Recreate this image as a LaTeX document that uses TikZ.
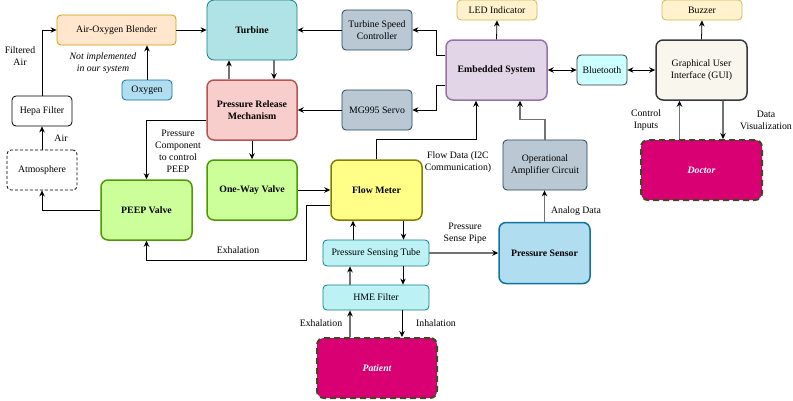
\documentclass[tikz,border=0pt]{standalone}
\usepackage{fontspec}
\setmainfont{Liberation Serif}
\usepackage{xcolor}
\usepackage{tikz}
\usetikzlibrary{shapes,arrows,positioning,calc,arrows.meta}

\definecolor{orangeF}{HTML}{FFE6CC}\definecolor{orangeD}{HTML}{D79B00}
\definecolor{tealF}{HTML}{B0E3E6}\definecolor{tealD}{HTML}{0E8088}
\definecolor{slateF}{HTML}{BAC8D3}\definecolor{slateD}{HTML}{23445D}
\definecolor{yellowF}{HTML}{FFF2CC}\definecolor{yellowD}{HTML}{D6B656}
\definecolor{purpleF}{HTML}{E1D5E7}\definecolor{purpleD}{HTML}{9673A6}
\definecolor{cyanF}{HTML}{CCFFFF}\definecolor{darkD}{HTML}{36393D}
\definecolor{creamF}{HTML}{F9F7ED}
\definecolor{pinkF}{HTML}{D80073}\definecolor{oliveD}{HTML}{3D4A1F}
\definecolor{redF}{HTML}{F8CECC}\definecolor{redD}{HTML}{B85450}
\definecolor{blueF}{HTML}{B1DDF0}\definecolor{blueD}{HTML}{10739E}
\definecolor{greenF}{HTML}{CCFF99}\definecolor{greenD}{HTML}{4D9900}
\definecolor{lemonF}{HTML}{FFFF88}\definecolor{lemonD}{HTML}{808000}
\definecolor{iceF}{HTML}{BDF2F5}

\begin{document}
\begin{tikzpicture}[x=1pt,y=-1pt,font=\fontsize{9.8}{12}\selectfont,
  blk/.style={draw, rounded corners=4pt, align=center, inner sep=1pt, line width=0.8pt},
  big/.style={blk, rounded corners=7pt, line width=1.5pt, font=\fontsize{9.8}{12}\selectfont\bfseries},
  person/.style={blk, rounded corners=7pt, fill=pinkF, draw=oliveD, line width=2pt,
    dash pattern=on 6pt off 4pt, text=white, font=\fontsize{9.8}{12}\selectfont\bfseries\itshape},
  lbl/.style={align=center, inner sep=0pt},
  arr/.style={-{Stealth[length=6pt,width=5.5pt]}, line width=0.8pt},
  garr/.style={-{Stealth[length=6pt,width=5.5pt,color=black]}, draw=gray!90!black, line width=1.2pt},
  dbl/.style={{Stealth[length=6pt,width=5.5pt]}-{Stealth[length=6pt,width=5.5pt]}, line width=0.8pt}]
\useasboundingbox (0,0) rectangle (793,400);

% blocks
\node[blk, fill=orangeF, draw=orangeD, minimum width=119pt, minimum height=30pt] (blender) at (116.5,30) {Air-Oxygen Blender};
\node[big, fill=tealF, draw=tealD, line width=0.8pt, minimum width=90pt, minimum height=60pt] (turbine) at (252,30) {Turbine};
\node[blk, fill=slateF, draw=slateD, minimum width=70pt, minimum height=40pt] (speed) at (377,30) {Turbine Speed\\Controller};
\node[blk, fill=yellowF, draw=yellowD, minimum width=80pt, minimum height=20pt] (led) at (497,10) {LED Indicator};
\node[big, fill=purpleF, draw=purpleD, minimum width=101pt, minimum height=60pt] (embedded) at (496.5,70) {Embedded System};
\node[blk, fill=cyanF, draw=darkD, minimum width=50pt, minimum height=30pt] (bluetooth) at (602,70) {Bluetooth};
\node[blk, fill=yellowF, draw=yellowD, minimum width=80pt, minimum height=20pt] (buzzer) at (702,10) {Buzzer};
\node[big, fill=creamF, draw=darkD, font=\fontsize{9.8}{12}\selectfont, minimum width=91pt, minimum height=60pt] (gui) at (701.5,70) {Graphical User\\Interface (GUI)};
\node[person, minimum width=121pt, minimum height=60pt] (doctor) at (701.5,170) {Doctor};
\node[blk, fill=slateF, draw=slateD, minimum width=70pt, minimum height=40pt] (servo) at (377,110) {MG995 Servo};
\node[big, fill=redF, draw=redD, minimum width=90pt, minimum height=60pt] (release) at (252,110) {Pressure Release\\Mechanism};
\node[blk, fill=blueF, draw=blueD, minimum width=50pt, minimum height=20pt] (oxygen) at (147,90) {Oxygen};
\node[blk, minimum width=60pt, minimum height=30pt] (hepa) at (42,111) {Hepa Filter};
\node[blk, dash pattern=on 3pt off 2pt, minimum width=70pt, minimum height=40pt] (atmosphere) at (42,170) {Atmosphere};
\node[big, fill=greenF, draw=greenD, minimum width=91pt, minimum height=60pt] (peep) at (146.5,210) {PEEP Valve};
\node[big, fill=greenF, draw=greenD, minimum width=90pt, minimum height=60pt] (oneway) at (252,190) {One-Way Valve};
\node[big, fill=lemonF, draw=lemonD, minimum width=91pt, minimum height=60pt] (flow) at (376.5,190) {Flow Meter};
\node[blk, fill=slateF, draw=slateD, minimum width=84pt, minimum height=50pt] (opamp) at (545,165) {Operational\\Amplifier Circuit};
\node[blk, fill=iceF, draw=tealD, minimum width=106pt, minimum height=26pt] (tube) at (376,253) {Pressure Sensing Tube};
\node[big, fill=blueF, draw=blueD, minimum width=91pt, minimum height=61pt] (sensor) at (544.5,253) {Pressure Sensor};
\node[blk, fill=iceF, draw=tealD, minimum width=106pt, minimum height=25pt] (hme) at (376,297.5) {HME Filter};
\node[person, minimum width=120pt, minimum height=60pt] (patient) at (377,368) {Patient};
\coordinate (exhturn) at (306,260);

% air path
\draw[arr] (hepa.north) |- (blender.west);
\draw[arr] (atmosphere.north) -- (hepa.south);
\draw[arr] (oxygen.north) -- (oxygen.north |- blender.south);
\draw[arr] (blender.east) -- (turbine.west);
\draw[arr] (speed.west) -- (turbine.east);
\draw[garr] ([xshift=22pt]turbine.south) -- ([xshift=22pt]release.north);
\draw[garr] ([xshift=-23pt]release.north) -- ([xshift=-23pt]turbine.south);
\draw[arr] (servo.west) -- (release.east);
\draw[arr] ([yshift=-10pt]release.west) -| (peep.north);
\draw[arr] (release.south) -- (oneway.north);
\draw[arr] (oneway.east) -- (flow.west);
\draw[arr] ([yshift=-15pt]flow.west) -| (exhturn) -| (peep.south);
\draw[arr] (peep.west) -| (atmosphere.south);

% control
\draw[arr] ([yshift=15pt]embedded.west) -- ++(-9,0) |- (speed.east);
\draw[arr] ([yshift=-15pt]embedded.west) -- ++(-9,0) |- (servo.east);
\draw[arr] (embedded.north) -- (led.south);
\draw[dbl] (embedded.east) -- (bluetooth.west);
\draw[dbl] (bluetooth.east) -- (gui.west);
\draw[arr] (gui.north) -- (buzzer.south);
\draw[garr] ([xshift=-22pt]doctor.north) -- ([xshift=-22pt]gui.south);
\draw[garr] ([xshift=21.5pt]gui.south) -- ([xshift=21.5pt]doctor.north);
\draw[arr] (flow.north) -- ++(0,-20) -| ([xshift=-20.5pt]embedded.south);
\draw[garr] (opamp.north) -- ++(0,-20) -| ([xshift=23.5pt]embedded.south);
\draw[garr] (sensor.north) -- (sensor.north |- opamp.south);

% sensing
\draw[arr] ([xshift=-23pt]tube.north) -- ([xshift=-23pt]tube.north |- flow.south);
\draw[arr] ([xshift=27pt]flow.south) -- ([xshift=27pt]flow.south |- tube.north);
\draw[garr] (tube.east) -- (sensor.west);
\draw[garr] ([xshift=-26pt]hme.north) -- ([xshift=-26pt]hme.north |- tube.south);
\draw[arr] ([xshift=27pt]tube.south) -- ([xshift=27pt]tube.south |- hme.north);
\draw[garr] ([xshift=-27pt]patient.north) -- ([xshift=-27pt]patient.north |- hme.south);
\draw[arr] ([xshift=26pt]hme.south) -- ([xshift=26pt]hme.south |- patient.north);

% labels
\node[lbl] (filteredlbl) at (20,56) {Filtered\\Air};
\node[lbl] (airlbl) at (61,138) {Air};
\node[lbl, font=\fontsize{9.8}{12}\selectfont\itshape] (notelbl) at (103,63) {Not implemented\\in our system};
\node[lbl] (peeplbl) at (178,151) {Pressure\\Component\\to control\\PEEP};
\node[lbl] (exhlbl) at (238,250) {Exhalation};
\node[lbl] (flowlbl) at (458,162) {Flow Data (I2C\\Communication)};
\node[lbl] (analoglbl) at (576,211) {Analog Data};
\node[lbl] (pipelbl) at (465,233) {Pressure\\Sense Pipe};
\node[lbl] (outlbl) at (321,323) {Exhalation};
\node[lbl] (inlbl) at (436,323) {Inhalation};
\node[lbl] (ctrllbl) at (646,120) {Control\\Inputs};
\node[lbl] (vizlbl) at (766,120) {Data\\Visualization};
\end{tikzpicture}
\end{document}
